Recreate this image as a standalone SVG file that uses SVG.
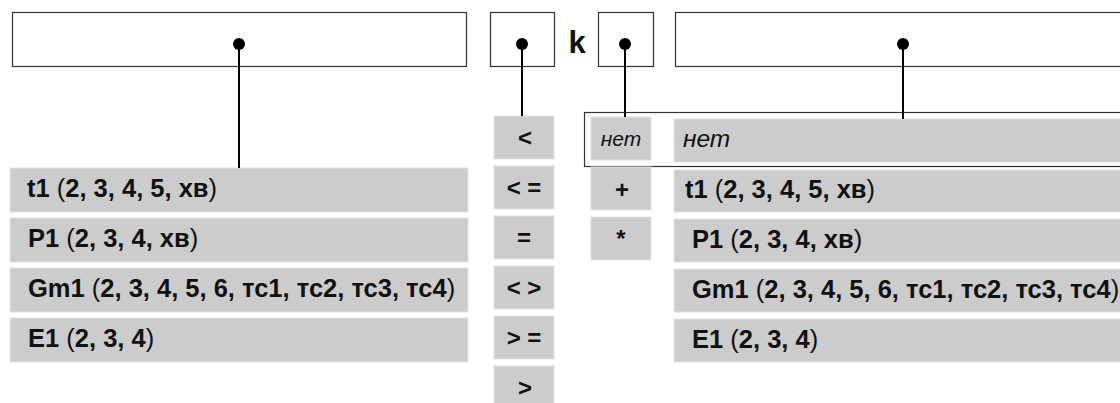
<svg xmlns="http://www.w3.org/2000/svg" width="1120" height="403" viewBox="0 0 1120 403">
<style>
.box{fill:#fff;stroke:#333;stroke-width:1.2}
.bar{fill:#cccccc;stroke:#e2e2e2;stroke-width:1}
.t{font-family:"Liberation Sans",Arial,sans-serif;font-size:25.5px;font-weight:bold;fill:#111}
.n{font-weight:normal}
.op{font-family:"Liberation Sans",Arial,sans-serif;font-size:24px;font-weight:bold;fill:#111;text-anchor:middle}
.it{font-family:"Liberation Sans",Arial,sans-serif;font-style:italic;fill:#111}
.wire{stroke:#000;stroke-width:2;fill:none}
</style>
<rect width="1120" height="403" fill="#fff"/>
<g id="frame"><rect x="584.5" y="112.5" width="560" height="54" fill="#fff" stroke="#333" stroke-width="1.2"/></g>
<g id="box-left"><rect class="box" x="12.5" y="12.5" width="454" height="54"/></g>
<g id="box-op"><rect class="box" x="490.5" y="12.5" width="64" height="54"/></g>
<g id="label-k"><text x="577" y="53" font-family="Liberation Sans,Arial,sans-serif" font-size="31" font-weight="bold" text-anchor="middle" fill="#111">k</text></g>
<g id="box-k"><rect class="box" x="598.5" y="12.5" width="55" height="54"/></g>
<g id="box-right"><rect class="box" x="675.5" y="12.5" width="470" height="54"/></g>
<g id="left-list">
<rect class="bar" x="10" y="168" width="458" height="44"/>
<text class="t" x="27" y="197">t1 <tspan class="n">(</tspan>2, 3, 4, 5, хв<tspan class="n">)</tspan></text>
<rect class="bar" x="10" y="218" width="458" height="44"/>
<text class="t" x="28" y="247">P1 <tspan class="n">(</tspan>2, 3, 4, хв<tspan class="n">)</tspan></text>
<rect class="bar" x="10" y="268" width="458" height="44"/>
<text class="t" x="28" y="297">Gm1 <tspan class="n">(</tspan>2, 3, 4, 5, 6, тс1, тс2, тс3, тс4<tspan class="n">)</tspan></text>
<rect class="bar" x="10" y="318" width="458" height="44"/>
<text class="t" x="28" y="347">E1 <tspan class="n">(</tspan>2, 3, 4<tspan class="n">)</tspan></text>
</g>
<g id="op-list">
<rect class="bar" x="494" y="116" width="60" height="43"/><text class="op" x="525" y="146">&lt;</text>
<rect class="bar" x="494" y="166" width="60" height="43"/><text class="op" x="524" y="196">&lt; =</text>
<rect class="bar" x="494" y="216" width="60" height="43"/><text class="op" x="524" y="246">=</text>
<rect class="bar" x="494" y="266" width="60" height="43"/><text class="op" x="524" y="296">&lt; &gt;</text>
<rect class="bar" x="494" y="316" width="60" height="43"/><text class="op" x="524" y="346">&gt; =</text>
<rect class="bar" x="494" y="366" width="60" height="43"/><text class="op" x="525" y="396">&gt;</text>
</g>
<g id="k-list">
<rect class="bar" x="591" y="117" width="60" height="43"/><text class="it" x="621" y="146" font-size="21" text-anchor="middle">нет</text>
<rect class="bar" x="591" y="167" width="60" height="43"/><text class="op" x="622" y="198">+</text>
<rect class="bar" x="591" y="217" width="60" height="43"/><text class="op" x="621" y="247">*</text>
</g>
<g id="right-list">
<rect class="bar" x="674" y="119" width="460" height="43"/>
<text class="it" x="683" y="147" font-size="24.5">нет</text>
<rect class="bar" x="674" y="170" width="460" height="42"/>
<text class="t" x="685" y="198">t1 <tspan class="n">(</tspan>2, 3, 4, 5, хв<tspan class="n">)</tspan></text>
<rect class="bar" x="674" y="219" width="460" height="43"/>
<text class="t" x="692" y="248">P1 <tspan class="n">(</tspan>2, 3, 4, хв<tspan class="n">)</tspan></text>
<rect class="bar" x="674" y="269" width="460" height="43"/>
<text class="t" x="692" y="298">Gm1 <tspan class="n">(</tspan>2, 3, 4, 5, 6, тс1, тс2, тс3, тс4<tspan class="n">)</tspan></text>
<rect class="bar" x="674" y="319" width="460" height="43"/>
<text class="t" x="692" y="348">E1 <tspan class="n">(</tspan>2, 3, 4<tspan class="n">)</tspan></text>
</g>
<g id="connectors">
<line class="wire" x1="239" y1="44" x2="239" y2="168"/><circle cx="239" cy="44" r="6"/>
<line class="wire" x1="522" y1="44" x2="522" y2="116"/><circle cx="522" cy="44" r="6"/>
<line class="wire" x1="625" y1="44" x2="625" y2="117"/><circle cx="625" cy="44" r="6"/>
<line class="wire" x1="903" y1="44" x2="903" y2="119"/><circle cx="903" cy="44" r="6"/>
</g>
</svg>
